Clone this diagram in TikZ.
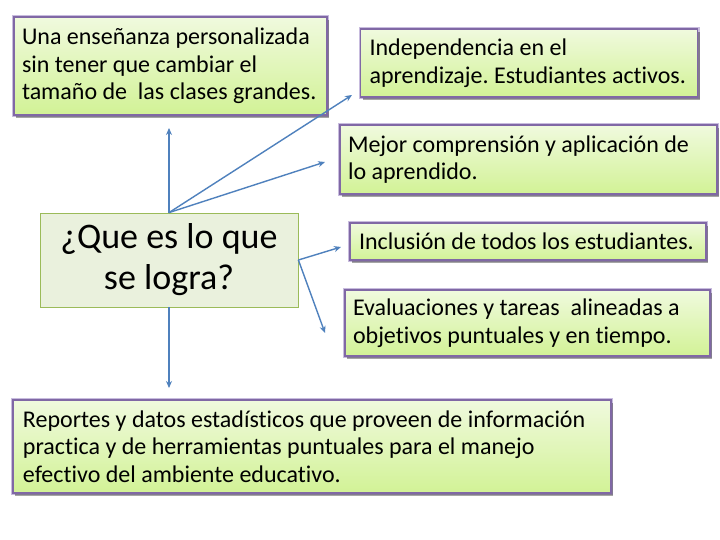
\documentclass[tikz,border=0pt]{standalone}
\usepackage{fontspec}
\setmainfont{Carlito}[Ligatures=NoCommon]
\frenchspacing
\usetikzlibrary{shadows,arrows.meta}
\definecolor{boxtop}{RGB}{240,250,222}
\definecolor{boxbot}{RGB}{210,242,150}
\definecolor{boxline}{RGB}{128,104,165}
\definecolor{boxglow}{RGB}{200,188,222}
\definecolor{centfill}{RGB}{234,241,221}
\definecolor{centline}{RGB}{155,187,89}
\definecolor{arrowblue}{RGB}{79,129,189}
\tikzset{
  idea/.style={rectangle, top color=boxtop, bottom color=boxbot, draw=boxline, line width=1.6pt,
    preaction={draw=boxglow, line width=4pt},
    drop shadow={shadow xshift=2pt, shadow yshift=-3pt, opacity=0.35, fill=black},
    align=flush left, inner sep=0pt, font=\fontsize{24}{27.5}\selectfont},
  centre/.style={rectangle, fill=centfill, draw=centline, line width=0.8pt,
    align=center, font=\fontsize{36}{41}\selectfont},
  link/.style={draw=arrowblue, line width=1.4pt, -{Stealth[length=7pt,width=6pt]}}
}
\begin{document}
\begin{tikzpicture}[x=1pt,y=-1pt]
\useasboundingbox (0,0) rectangle (720,540);
\fill[white] (0,0) rectangle (720,540);
% boxes
\node[idea, minimum width=313pt, minimum height=98pt, text width=297pt] (b1) at (170.5,66) {Una enseñanza personalizada\\sin tener que cambiar el\\tamaño~de~~las~clases~grandes.};
\node[idea, minimum width=337pt, minimum height=68pt, text width=319pt] (b2) at (529,63) {Independencia en el\\aprendizaje. Estudiantes activos.};
\node[idea, minimum width=377pt, minimum height=69pt, text width=361pt] (b3) at (528.5,159.5) {Mejor comprensión y aplicación de\\lo aprendido.};
\node[idea, minimum width=356pt, minimum height=37pt, text width=338pt] (b4) at (528,241.5) {Inclusión de todos los estudiantes.};
\node[idea, minimum width=365pt, minimum height=66pt, text width=349pt] (b5) at (527.5,323) {Evaluaciones y tareas~~alineadas a\\objetivos puntuales y en tiempo.};
\node[idea, minimum width=598pt, minimum height=93pt, text width=578pt] (b6) at (312,446.5) {Reportes y datos estadísticos que proveen de información\\practica y de herramientas puntuales para el manejo\\efectivo del ambiente educativo.};
\node[centre, minimum width=258pt, minimum height=94pt] (c) at (169,260) {¿Que es lo que\\se logra?};
% arrow ends
\coordinate (e1) at (169,128);
\coordinate (e2) at (352,95);
\coordinate (e3) at (325,162);
\coordinate (e4) at (341,247);
\coordinate (e5) at (325,333);
\coordinate (e6) at (169,388);
\draw[link] (c.north) -- (e1);
\draw[link] (c.north) -- (e2);
\draw[link] (c.north) -- (e3);
\draw[link] (c.east) -- (e4);
\draw[link] (c.east) -- (e5);
\draw[link] (c.south) -- (e6);
\end{tikzpicture}
\end{document}
